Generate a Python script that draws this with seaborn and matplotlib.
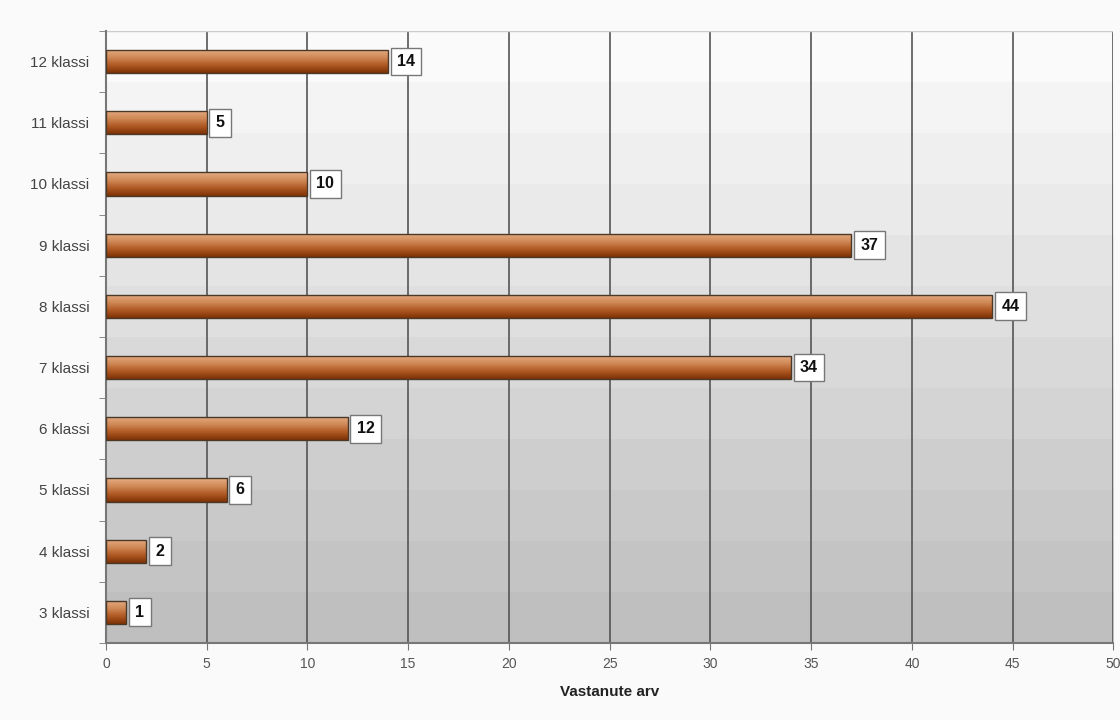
import numpy as np
import pandas as pd
import matplotlib.pyplot as plt
import seaborn as sns
from matplotlib.colors import LinearSegmentedColormap

# Andmed
klassid = ["3 klassi", "4 klassi", "5 klassi", "6 klassi", "7 klassi",
           "8 klassi", "9 klassi", "10 klassi", "11 klassi", "12 klassi"]
vastanuid = [1, 2, 6, 12, 34, 44, 37, 10, 5, 14]
x_ticks = [0, 5, 10, 15, 20, 25, 30, 35, 40, 45, 50]

sns.set_style("white")
plt.rcParams['font.family'] = ['Liberation Sans', 'DejaVu Sans']

df = pd.DataFrame({"klass": klassid, "arv": vastanuid})
jarjestus = klassid[::-1]

fig = plt.figure(figsize=(11.2, 7.2), dpi=100)
fig.patch.set_facecolor("#fafafa")
ax = fig.add_axes([0.0946, 0.107, 0.8995, 0.85])

sns.barplot(data=df, y="klass", x="arv", order=jarjestus, orient="h",
            width=0.38, color="#b86030", edgecolor="#4a3828", linewidth=1.0,
            ax=ax, zorder=3)

# taust: hall gradient ülevalt alla
bg = LinearSegmentedColormap.from_list("bg", ["#fafafa", "#bfbfbf"])
grad = np.linspace(0, 1, 12).reshape(-1, 1)
ax.imshow(grad, cmap=bg, aspect="auto", extent=[0, 1, 0, 1],
          transform=ax.transAxes, zorder=0, interpolation="nearest")

# tulpade gradient
bar_cmap = LinearSegmentedColormap.from_list(
    "bar", ["#e6ae84", "#d08a58", "#b05a24", "#7e3206"])
bar_grad = np.linspace(0, 1, 64).reshape(-1, 1)
for p in ax.patches:
    x0, y0 = p.get_x(), p.get_y()
    w, h = p.get_width(), p.get_height()
    im = ax.imshow(bar_grad, cmap=bar_cmap, aspect="auto",
                   extent=[x0, x0 + w, y0 + h, y0], zorder=3.5,
                   interpolation="bilinear")
    im.set_clip_path(p)
    p.set_facecolor("none")
    p.set_zorder(4)

ax.set_xlim(0, 50)
ax.set_ylim(len(klassid) - 0.5, -0.5)
ax.set_xticks(x_ticks)
ax.xaxis.grid(True, color="#555555", linewidth=1.2, zorder=1)
ax.set_axisbelow(True)

# sildid
for i, k in enumerate(jarjestus):
    v = df.loc[df["klass"] == k, "arv"].iloc[0]
    ax.annotate(str(v), xy=(v, i), xytext=(6.5, 0), textcoords="offset points",
                ha="left", va="center", fontsize=11.5, fontweight="bold",
                color="#111111", zorder=6,
                bbox=dict(boxstyle="square,pad=0.4", facecolor="white",
                          edgecolor="#777777", linewidth=1.0))

ax.set_yticks(range(len(jarjestus)))
ax.set_yticklabels(jarjestus)
ax.set_yticks(np.arange(-0.5, len(jarjestus), 1), minor=True)
ax.tick_params(axis="y", which="major", length=0, pad=12,
               labelsize=11, labelcolor="#444444")
ax.tick_params(axis="y", which="minor", length=5, color="#777777",
               direction="out", left=True)
ax.tick_params(axis="x", length=5, color="#777777", direction="out",
               labelsize=10, labelcolor="#555555", bottom=True, pad=5)

for s in ["top", "right"]:
    ax.spines[s].set_visible(False)
ax.spines["left"].set_color("#777777")
ax.spines["bottom"].set_color("#777777")
ax.spines["left"].set_linewidth(1.5)
ax.spines["bottom"].set_linewidth(1.5)
ax.axhline(-0.5, color="#cccccc", linewidth=1.0, zorder=2)

ax.set_ylabel("")
ax.set_xlabel("Vastanute arv", fontsize=11, fontweight="bold",
              color="#222222", labelpad=10)

fig.savefig("out.png", dpi=100, facecolor=fig.get_facecolor())
